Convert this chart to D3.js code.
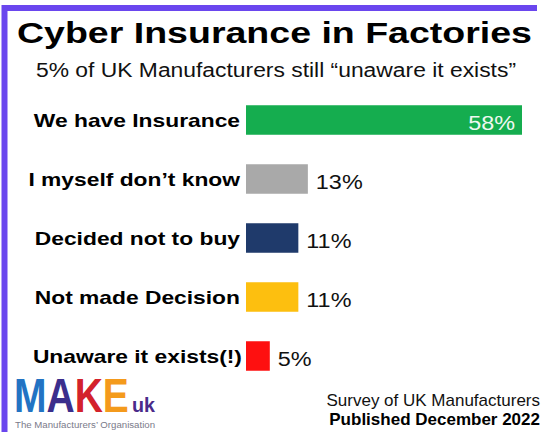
<!DOCTYPE html>
<html>
<head>
<meta charset="utf-8">
<script src="https://cdn.jsdelivr.net/npm/d3@7"></script>
<style>
html,body{margin:0;padding:0;background:#fff;}
svg{display:block;font-family:"Liberation Sans",Arial,sans-serif;}
</style>
</head>
<body>
<svg id="chart" width="543" height="432"></svg>
<script>
const categories = ["We have Insurance", "I myself don\u2019t know", "Decided not to buy", "Not made Decision", "Unaware it exists(!)"];
const values = [58, 13, 11, 11, 5];
const barColors = ["#15ad4f", "#a9a9a9", "#1f3a6b", "#fdbf0f", "#fe1010"];
const valueLabels = ["58%", "13%", "11%", "11%", "5%"];
const title = "Cyber Insurance in Factories";
const subtitle = "5% of UK Manufacturers still \u201Cunaware it exists\u201D";
const footer1 = "Survey of UK Manufacturers";
const footer2 = "Published December 2022";
const logoLetters = ["M", "A", "K", "E"];
const logoColors = ["#2273c3", "#3b2e8c", "#d3222c", "#f49a1c"];

const svg = d3.select("#chart");
svg.append("rect").attr("width", 543).attr("height", 432).attr("fill", "#fff");

// stretch a text horizontally by a factor
function stretch(sel, f) {
  sel.each(function () {
    const w = this.getComputedTextLength();
    d3.select(this).attr("textLength", w * f).attr("lengthAdjust", "spacingAndGlyphs");
  });
}

// purple frame (left + top)
svg.append("path")
  .attr("d", "M4.5,432 L4.5,8 L537,8")
  .attr("fill", "none").attr("stroke", "#6a46ee").attr("stroke-width", 6);

svg.append("text").attr("x", 17).attr("y", 43)
  .attr("font-weight", "bold").attr("font-size", 29)
  .attr("textLength", 515).attr("lengthAdjust", "spacingAndGlyphs")
  .attr("fill", "#000").text(title);

svg.append("text").attr("x", 36).attr("y", 77)
  .attr("font-size", 19.5)
  .attr("textLength", 480).attr("lengthAdjust", "spacingAndGlyphs")
  .attr("fill", "#111").text(subtitle);

const x = d3.scaleLinear().domain([0, 58]).range([246, 522]);
const y = d3.scaleBand().domain(categories).range([90.5, 385.5]).paddingInner(0.5).paddingOuter(0.25);

const data = categories.map((c, i) => ({c, v: values[i], col: barColors[i], lab: valueLabels[i]}));

const g = svg.append("g");
g.selectAll("rect.bar").data(data).join("rect").attr("class", "bar")
  .attr("x", x(0)).attr("y", d => y(d.c))
  .attr("width", d => x(d.v) - x(0)).attr("height", y.bandwidth())
  .attr("fill", d => d.col);

const cats = g.selectAll("text.cat").data(data).join("text").attr("class", "cat")
  .attr("x", (d, i) => i === 4 ? 242 : 240).attr("y", d => y(d.c) + y.bandwidth() / 2 + 7)
  .attr("text-anchor", "end").attr("font-weight", "bold").attr("font-size", 19)
  .attr("fill", "#000").text(d => d.c);
stretch(cats, 1.2);

const vals = g.selectAll("text.val").data(data).join("text").attr("class", "val")
  .attr("x", (d, i) => i === 0 ? x(d.v) - 7 : x(d.v) + 8)
  .attr("y", d => y(d.c) + y.bandwidth() / 2 + 9.5)
  .attr("text-anchor", (d, i) => i === 0 ? "end" : "start")
  .attr("font-size", 20)
  .attr("fill", (d, i) => i === 0 ? "#eef8f0" : "#111").text(d => d.lab);
stretch(vals, 1.17);

// footer
svg.append("text").attr("x", 540).attr("y", 406).attr("text-anchor", "end")
  .attr("font-size", 17).attr("fill", "#111").text(footer1);
svg.append("text").attr("x", 540).attr("y", 425).attr("text-anchor", "end")
  .attr("font-size", 17).attr("font-weight", "bold").attr("fill", "#000").text(footer2);

// logo
const logo = svg.append("g");
const mk = logo.append("text").attr("transform", "translate(14,412) scale(1,1.25)")
  .attr("font-weight", "bold").attr("font-size", 39);
logoLetters.forEach((t, i) => mk.append("tspan").attr("fill", logoColors[i]).text(t));
logo.append("text").attr("x", 132).attr("y", 412).attr("font-weight", "bold")
  .attr("font-size", 20).attr("fill", "#4a2b8a")
  .attr("textLength", 23).attr("lengthAdjust", "spacingAndGlyphs").text("uk");
logo.append("text").attr("x", 15).attr("y", 428).attr("font-size", 8.5)
  .attr("fill", "#7a7a8a").attr("textLength", 140).attr("lengthAdjust", "spacingAndGlyphs")
  .text("The Manufacturers\u2019 Organisation");
</script>
</body>
</html>
